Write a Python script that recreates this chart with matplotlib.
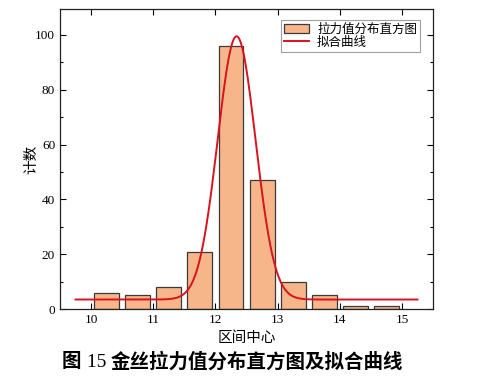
import numpy as np
import matplotlib
matplotlib.use('Agg')
import matplotlib.pyplot as plt
from matplotlib.ticker import MultipleLocator

plt.rcParams['font.family'] = ['Liberation Serif', 'Noto Sans CJK SC']

# histogram data
bin_centers = [10.25, 10.75, 11.25, 11.75, 12.25, 12.75, 13.25, 13.75, 14.25, 14.75]
counts = [6, 5, 8, 21, 96, 47, 10, 5, 1, 1]

# Gaussian fit parameters (y0 + A*exp(-(x-xc)^2/(2w^2)))
fit_y0 = 3.5
fit_amp = 96.0
fit_xc = 12.34
fit_w = 0.305
fit_range = (9.75, 15.25)

x_ticks = [10, 11, 12, 13, 14, 15]

fig = plt.figure(figsize=(4.82, 3.84), dpi=100)
ax = fig.add_axes([0.1245, 0.195, 0.774, 0.782])

bars = ax.bar(bin_centers, counts, width=0.4, color='#F7B68A', edgecolor='#3a3a3a',
              linewidth=0.9, zorder=2)

xf = np.linspace(fit_range[0], fit_range[1], 400)
yf = fit_y0 + fit_amp * np.exp(-(xf - fit_xc) ** 2 / (2 * fit_w ** 2))
line, = ax.plot(xf, yf, color='#D8121E', linewidth=1.4, zorder=3)

ax.set_xlim(9.5, 15.5)
ax.set_ylim(0, 109.5)
ax.set_xticks(x_ticks)
ax.yaxis.set_major_locator(MultipleLocator(20))
ax.yaxis.set_minor_locator(MultipleLocator(10))
ax.tick_params(which='both', direction='in', top=True, right=True,
               labelsize=9.5, width=0.8)
ax.tick_params(which='major', length=4)
ax.tick_params(which='minor', length=2.5)
for s in ax.spines.values():
    s.set_linewidth(0.9)
    s.set_color('#222222')

ax.set_xlabel('区间中心', fontsize=10.5, labelpad=4)
ax.set_ylabel('计数', fontsize=10.5, labelpad=-2)

leg = ax.legend([bars, line], ['拉力值分布直方图', '拟合曲线'],
                loc='upper right', fontsize=9, frameon=True, fancybox=False,
                edgecolor='#888888', borderpad=0.25, handlelength=2.0,
                handletextpad=0.6, labelspacing=0.1,
                bbox_to_anchor=(0.982, 0.983))
leg.get_frame().set_linewidth(0.8)

# caption: bold Chinese, regular serif figure number
fig.canvas.draw()
r = fig.canvas.get_renderer()
parts = [('图', 'bold'), (' 15 ', 'normal'), ('金丝拉力值分布直方图及拟合曲线', 'bold')]
x = 62
for txt, wt in parts:
    t = fig.text(x / 482, 0.057, txt, ha='left', va='center', fontsize=14,
                 fontweight=wt)
    x += t.get_window_extent(renderer=r).width

fig.savefig('out.png', dpi=100)
